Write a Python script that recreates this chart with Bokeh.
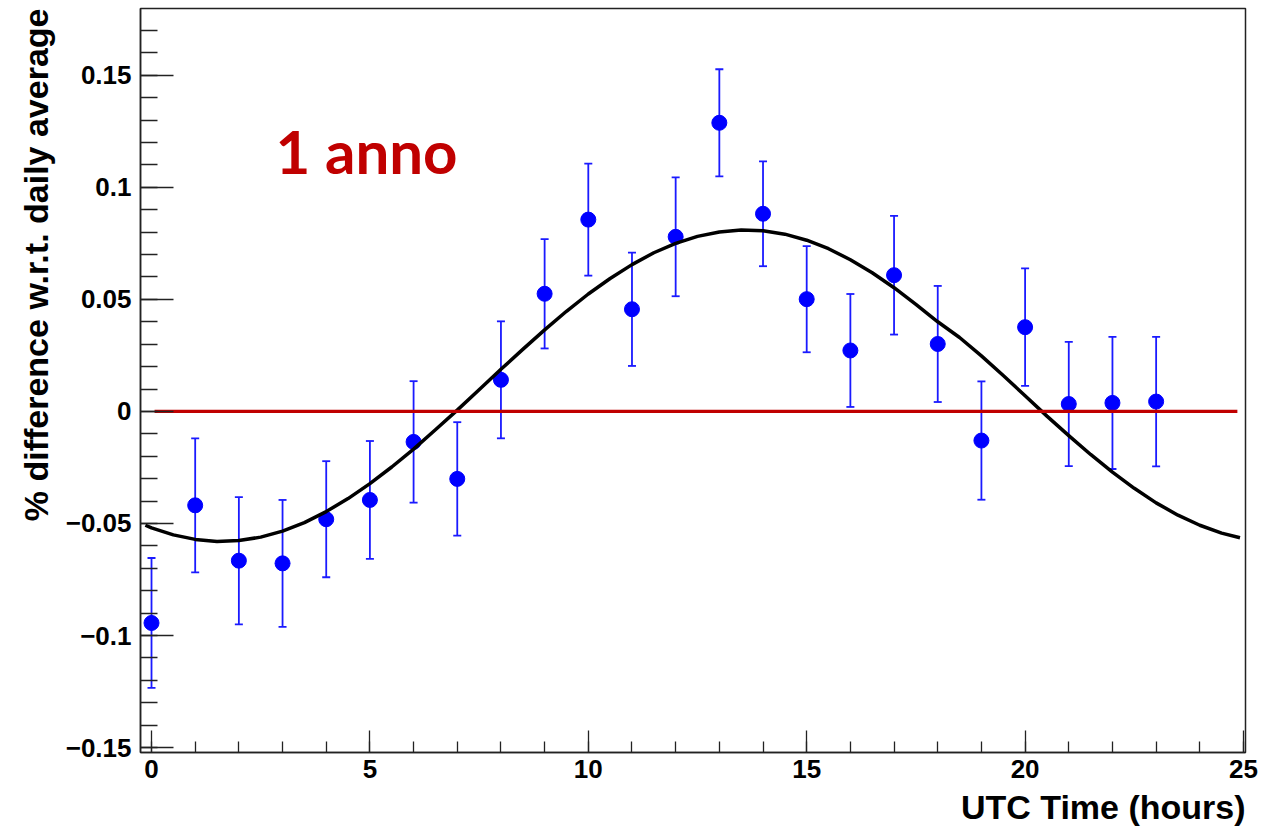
from bokeh.plotting import figure
from bokeh.models import ColumnDataSource, Range1d, FixedTicker, Label, Title
from bokeh.embed import file_html
from bokeh.resources import INLINE

# ---- data ----
hours = list(range(24))
values = [-0.0944, -0.0419, -0.0666, -0.0678, -0.0481, -0.0395, -0.0136, -0.0301,
          0.0141, 0.0525, 0.0856, 0.0456, 0.0779, 0.1288, 0.0882, 0.0501,
          0.0272, 0.0608, 0.0301, -0.0130, 0.0376, 0.0033, 0.0038, 0.0044]
errors = [0.0290, 0.0299, 0.0284, 0.0283, 0.0259, 0.0263, 0.0271, 0.0253,
          0.0261, 0.0244, 0.0250, 0.0253, 0.0265, 0.0239, 0.0234, 0.0237,
          0.0252, 0.0265, 0.0259, 0.0264, 0.0262, 0.0277, 0.0295, 0.0289]

# fitted curve, values every half hour
fit_t = [-0.14, 0.0, 0.5, 1.0, 1.5, 2.0, 2.5, 3.0, 3.5, 4.0, 4.5, 5.0, 5.5, 6.0, 6.5,
         7.0, 7.5, 8.0, 8.5, 9.0, 9.5, 10.0, 10.5, 11.0, 11.5, 12.0, 12.5, 13.0,
         13.5, 14.0, 14.5, 15.0, 15.5, 16.0, 16.5, 17.0, 17.5, 18.0, 18.5, 19.0,
         19.5, 20.0, 20.5, 21.0, 21.5, 22.0, 22.5, 23.0, 23.5, 24.0, 24.5, 24.92]
fit_y = [-0.0508, -0.0520, -0.0551, -0.0571, -0.0580, -0.0576, -0.0561, -0.0534,
         -0.0496, -0.0447, -0.0389, -0.0322, -0.0248, -0.0168, -0.0082, 0.0006,
         0.0097, 0.0188, 0.0277, 0.0364, 0.0447, 0.0524, 0.0593, 0.0655, 0.0708,
         0.0750, 0.0781, 0.0801, 0.0810, 0.0806, 0.0791, 0.0764, 0.0726, 0.0677,
         0.0619, 0.0552, 0.0478, 0.0400, 0.0330, 0.0248, 0.0160, 0.0070, -0.0021,
         -0.0108, -0.0192, -0.0271, -0.0343, -0.0408, -0.0463, -0.0508, -0.0543,
         -0.0564]

zero_line_t = [0.07, 24.86]
zero_line_y = [0.0, 0.0]

x_major = [0, 5, 10, 15, 20, 25]
x_minor = list(range(0, 26))
y_major = [-0.15, -0.1, -0.05, 0, 0.05, 0.1, 0.15]
y_labels = ["\u22120.15", "\u22120.1", "\u22120.05", "0", "0.05", "0.1", "0.15"]
y_minor = [round(i * 0.01, 2) for i in range(-15, 19)]

annotation_text = "1 anno"
x_title = "UTC Time (hours)"
y_title = "% difference w.r.t. daily average"

# ---- figure ----
p = figure(width=1276, height=830, output_backend="svg", toolbar_location=None,
           x_range=Range1d(-0.252, 25.046), y_range=Range1d(-0.1522, 0.1798),
           min_border_left=140, min_border_right=31, min_border_top=8,
           min_border_bottom=74, title=None)
p.background_fill_color = "white"
p.border_fill_color = "white"
p.outline_line_color = "#222222"
p.outline_line_width = 1.5
p.xgrid.visible = False
p.ygrid.visible = False

FONT = "Liberation Sans"

p.xaxis.ticker = FixedTicker(ticks=x_major, minor_ticks=x_minor)
p.yaxis.ticker = FixedTicker(ticks=y_major, minor_ticks=y_minor)
p.yaxis.major_label_overrides = {v: s for v, s in zip(y_major, y_labels)}
p.xaxis.major_label_overrides = {v: str(v) for v in x_major}

for ax in (p.xaxis, p.yaxis):
    ax.axis_line_color = "#222222"
    ax.axis_line_width = 1.5
    ax.major_tick_line_color = "#222222"
    ax.minor_tick_line_color = "#222222"
    ax.major_tick_line_width = 1.3
    ax.minor_tick_line_width = 1.3
    ax.major_tick_out = 0
    ax.minor_tick_out = 0
    ax.major_label_text_font = FONT
    ax.major_label_text_font_style = "bold"
    ax.major_label_text_font_size = "26px"
    ax.major_label_text_color = "black"

p.xaxis.major_tick_in = 22
p.xaxis.minor_tick_in = 11
p.xaxis.major_label_standoff = 7
p.yaxis.major_tick_in = 33
p.yaxis.minor_tick_in = 17
p.yaxis.major_label_standoff = 9

# ---- data marks ----
src = ColumnDataSource(dict(
    x=hours, y=values,
    lo=[v - e for v, e in zip(values, errors)],
    hi=[v + e for v, e in zip(values, errors)],
))
p.segment(x0="x", y0="lo", x1="x", y1="hi", source=src, line_color="#1a1aff", line_width=1.8)
p.scatter(x="x", y="lo", source=src, marker="dash", size=8, line_color="#1a1aff", line_width=1.8)
p.scatter(x="x", y="hi", source=src, marker="dash", size=8, line_color="#1a1aff", line_width=1.8)
p.scatter(x="x", y="y", source=src, marker="circle", size=15, fill_color="#0000ff", line_color="#0000ff")

p.line(fit_t, fit_y, line_color="black", line_width=3.5, line_join="round")
p.line(zero_line_t, zero_line_y, line_color="#c00000", line_width=3.3)

p.add_layout(Label(x=2.84, y=0.116, text=annotation_text, text_font="Lato",
                   text_font_style="bold", text_font_size="60px", text_color="#c00000",
                   text_baseline="alphabetic", text_align="left"))

p.add_layout(Title(text=x_title, align="right", text_font=FONT, text_font_style="bold",
                   text_font_size="34px", text_color="black"), "below")
p.add_layout(Title(text=y_title, align="right", text_font=FONT, text_font_style="bold",
                   text_font_size="34px", text_color="black", standoff=16), "left")

open("out.html", "w").write(file_html(p, INLINE))
